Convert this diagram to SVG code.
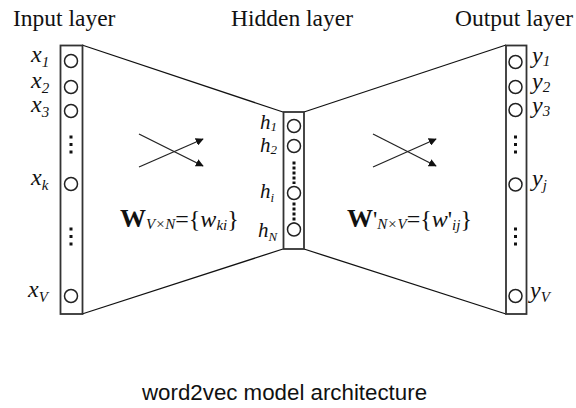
<svg xmlns="http://www.w3.org/2000/svg" width="576" height="408" viewBox="0 0 576 408">
<defs>
<style>
.title{font-family:"Liberation Serif",serif;font-size:23.5px;fill:#111}
.lbl{font-family:"Liberation Serif",serif;font-size:24px;font-style:italic;fill:#111}
.lbs{font-family:"Liberation Serif",serif;font-size:21px;font-style:italic;fill:#111}
.sub{font-size:15px}
.hs{font-size:13px}
.col{fill:#fff;stroke:#333;stroke-width:1.8}
.nd{fill:#fff;stroke:#222;stroke-width:1.5}
.dots{stroke:#111;stroke-width:3;stroke-dasharray:3 4.5}
.hdots{stroke:#111;stroke-width:3;stroke-dasharray:3 2}
.edge{stroke:#111;stroke-width:1.3;fill:none}
.arr{stroke:#222;stroke-width:1.3;fill:none;marker-end:url(#ah)}
.math{font-family:"Liberation Serif",serif;font-size:24px;fill:#111}
.cap{font-family:"Liberation Sans",Arial,sans-serif;font-size:22.3px;fill:#111}
</style>
<marker id="ah" viewBox="0 0 10 10" refX="9" refY="5" markerWidth="8" markerHeight="8" markerUnits="userSpaceOnUse" orient="auto">
<path d="M0,0 L10,5 L0,10 z" fill="#111"/>
</marker>
</defs>
<rect width="576" height="408" fill="#fff"/>

<g id="connectors">
<line class="edge" x1="82" y1="45" x2="283" y2="112"/>
<line class="edge" x1="82" y1="314" x2="283" y2="249"/>
<line class="edge" x1="304" y1="112" x2="506" y2="45"/>
<line class="edge" x1="304" y1="249" x2="506" y2="314"/>
<line class="arr" x1="139" y1="134" x2="203" y2="166"/>
<line class="arr" x1="139" y1="167" x2="203" y2="139"/>
<line class="arr" x1="373" y1="134" x2="436" y2="166"/>
<line class="arr" x1="373" y1="167" x2="436" y2="139"/>
</g>

<g id="titles">
<text class="title" x="13" y="26">Input layer</text>
<text class="title" x="231" y="26">Hidden layer</text>
<text class="title" x="455" y="26">Output layer</text>
</g>

<g id="input-layer">
<rect class="col" x="60.5" y="45.5" width="22" height="268.5"/>
<circle class="nd" cx="71" cy="61" r="6.5"/>
<circle class="nd" cx="71" cy="87" r="6.5"/>
<circle class="nd" cx="71" cy="111" r="6.5"/>
<line class="dots" x1="71" y1="135.5" x2="71" y2="154"/>
<circle class="nd" cx="71" cy="184" r="6.5"/>
<line class="dots" x1="71" y1="227.5" x2="71" y2="246"/>
<circle class="nd" cx="71" cy="296" r="6.5"/>
<text class="lbl" x="31" y="62">x<tspan class="sub" dy="5">1</tspan></text>
<text class="lbl" x="31" y="88">x<tspan class="sub" dy="5">2</tspan></text>
<text class="lbl" x="31" y="112">x<tspan class="sub" dy="5">3</tspan></text>
<text class="lbl" x="31" y="185">x<tspan class="sub" dy="5">k</tspan></text>
<text class="lbl" x="28" y="297">x<tspan class="sub" dy="5">V</tspan></text>
</g>

<g id="hidden-layer">
<rect class="col" x="283.5" y="112" width="20.5" height="137"/>
<circle class="nd" cx="294" cy="126" r="6.5"/>
<circle class="nd" cx="294" cy="146" r="6.5"/>
<line class="hdots" x1="294" y1="161.5" x2="294" y2="184"/>
<circle class="nd" cx="294" cy="193" r="6.5"/>
<line class="hdots" x1="294" y1="202.5" x2="294" y2="225"/>
<circle class="nd" cx="294" cy="229.5" r="6.5"/>
<text class="lbs" x="260" y="129">h<tspan class="hs" dy="2">1</tspan></text>
<text class="lbs" x="260" y="152">h<tspan class="hs" dy="2">2</tspan></text>
<text class="lbs" x="260" y="198">h<tspan class="hs" dy="4">i</tspan></text>
<text class="lbs" x="258" y="237">h<tspan class="hs" dy="4">N</tspan></text>
</g>

<g id="output-layer">
<rect class="col" x="506" y="45.5" width="20.5" height="268.5"/>
<circle class="nd" cx="515.5" cy="62" r="6.5"/>
<circle class="nd" cx="515.5" cy="87" r="6.5"/>
<circle class="nd" cx="515.5" cy="110" r="6.5"/>
<line class="dots" x1="515.5" y1="135.5" x2="515.5" y2="154"/>
<circle class="nd" cx="515.5" cy="184.5" r="6.5"/>
<line class="dots" x1="515.5" y1="227.5" x2="515.5" y2="246"/>
<circle class="nd" cx="515.5" cy="296" r="6.5"/>
<text class="lbl" x="532" y="63">y<tspan class="sub" dy="3">1</tspan></text>
<text class="lbl" x="532" y="89">y<tspan class="sub" dy="3">2</tspan></text>
<text class="lbl" x="532" y="113">y<tspan class="sub" dy="3">3</tspan></text>
<text class="lbl" x="532" y="186">y<tspan class="sub" dy="4">j</tspan></text>
<text class="lbl" x="530" y="298">y<tspan class="sub" dy="4">V</tspan></text>
</g>

<g id="weights-in">
<text class="math" x="120" y="227"><tspan font-weight="bold" font-size="26">W</tspan><tspan font-style="italic" font-size="15" dy="2">V×N</tspan><tspan dy="-2">={</tspan><tspan font-style="italic">w</tspan><tspan font-style="italic" font-size="15" dy="3">ki</tspan><tspan dy="-3">}</tspan></text>
</g>

<g id="weights-out">
<text class="math" x="347" y="227"><tspan font-weight="bold" font-size="26">W</tspan><tspan>'</tspan><tspan font-style="italic" font-size="15" dy="2">N×V</tspan><tspan dy="-2">={</tspan><tspan font-style="italic">w</tspan><tspan>'</tspan><tspan font-style="italic" font-size="15" dy="3">ij</tspan><tspan dy="-3">}</tspan></text>
</g>

<g id="caption">
<text class="cap" x="142" y="400">word2vec model architecture</text>
</g>
</svg>
